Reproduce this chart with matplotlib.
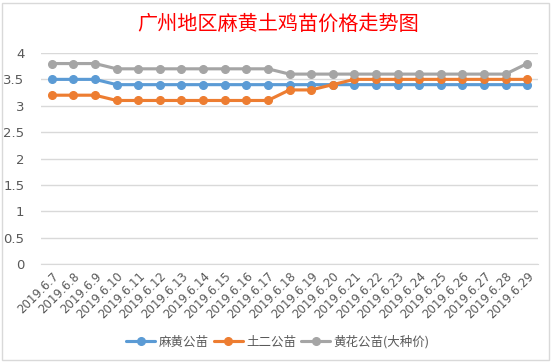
import matplotlib
matplotlib.use("Agg")
import matplotlib.pyplot as plt
from matplotlib.patches import Rectangle

plt.rcParams['font.family'] = ['Noto Sans CJK SC', 'DejaVu Sans']

dates = ["2019.6.7", "2019.6.8", "2019.6.9", "2019.6.10", "2019.6.11", "2019.6.12",
         "2019.6.13", "2019.6.14", "2019.6.15", "2019.6.16", "2019.6.17", "2019.6.18",
         "2019.6.19", "2019.6.20", "2019.6.21", "2019.6.22", "2019.6.23", "2019.6.24",
         "2019.6.25", "2019.6.26", "2019.6.27", "2019.6.28", "2019.6.29"]
mahuang = [3.5, 3.5, 3.5, 3.4, 3.4, 3.4, 3.4, 3.4, 3.4, 3.4, 3.4, 3.4,
           3.4, 3.4, 3.4, 3.4, 3.4, 3.4, 3.4, 3.4, 3.4, 3.4, 3.4]
tuer = [3.2, 3.2, 3.2, 3.1, 3.1, 3.1, 3.1, 3.1, 3.1, 3.1, 3.1, 3.3,
        3.3, 3.4, 3.5, 3.5, 3.5, 3.5, 3.5, 3.5, 3.5, 3.5, 3.5]
huanghua = [3.8, 3.8, 3.8, 3.7, 3.7, 3.7, 3.7, 3.7, 3.7, 3.7, 3.7, 3.6,
            3.6, 3.6, 3.6, 3.6, 3.6, 3.6, 3.6, 3.6, 3.6, 3.6, 3.8]
series_names = ["麻黄公苗", "土二公苗", "黄花公苗(大种价)"]
colors = ["#5B9BD5", "#ED7D31", "#A5A5A5"]
yticks = [0, 0.5, 1, 1.5, 2, 2.5, 3, 3.5, 4]
title = "广州地区麻黄土鸡苗价格走势图"

fig = plt.figure(figsize=(5.56, 3.64), dpi=100)
fig.patch.set_facecolor("white")
fig.patches.append(Rectangle((2/556, 1 - 360/364), 547/556, 357/364,
                             transform=fig.transFigure, fill=False,
                             edgecolor="#D9D9D9", linewidth=1))

ax = fig.add_axes([41/556, 1 - 264/364, (538 - 41)/556, (264 - 53)/364])
x = list(range(len(dates)))
for vals, name, c in zip([mahuang, tuer, huanghua], series_names, colors):
    ax.plot(x, vals, color=c, linewidth=2.25, marker='o', markersize=5.5,
            label=name, solid_capstyle='round')

ax.set_xlim(-0.5, len(dates) - 0.5)
ax.set_ylim(0, 4)
ax.set_yticks(yticks)
ax.set_yticklabels([f"{v:g}" for v in yticks], fontsize=9.5, color="#595959",
                   family=['DejaVu Sans'])
ax.set_xticks(x)
ax.set_xticklabels(dates, rotation=45, ha='right', rotation_mode='anchor',
                   fontsize=8.5, color="#595959", family=['DejaVu Sans'])
ax.tick_params(axis='both', length=0)
ax.tick_params(axis='y', pad=12)
ax.tick_params(axis='x', pad=4)
ax.grid(axis='y', color="#D9D9D9", linewidth=1)
ax.set_axisbelow(True)
for s in ['top', 'right', 'left']:
    ax.spines[s].set_visible(False)
ax.spines['bottom'].set_color("#D9D9D9")

fig.text(278/556, 1 - 24/364, title, color="red", fontsize=14.5, fontweight='medium',
         ha='center', va='center')

fig.legend(loc='center', bbox_to_anchor=(278/556, 1 - 342/364), ncol=3,
           frameon=False, fontsize=9, handlelength=2.3, columnspacing=0.4,
           handletextpad=0.3, labelcolor="#595959")

fig.savefig("out.png", dpi=100)
